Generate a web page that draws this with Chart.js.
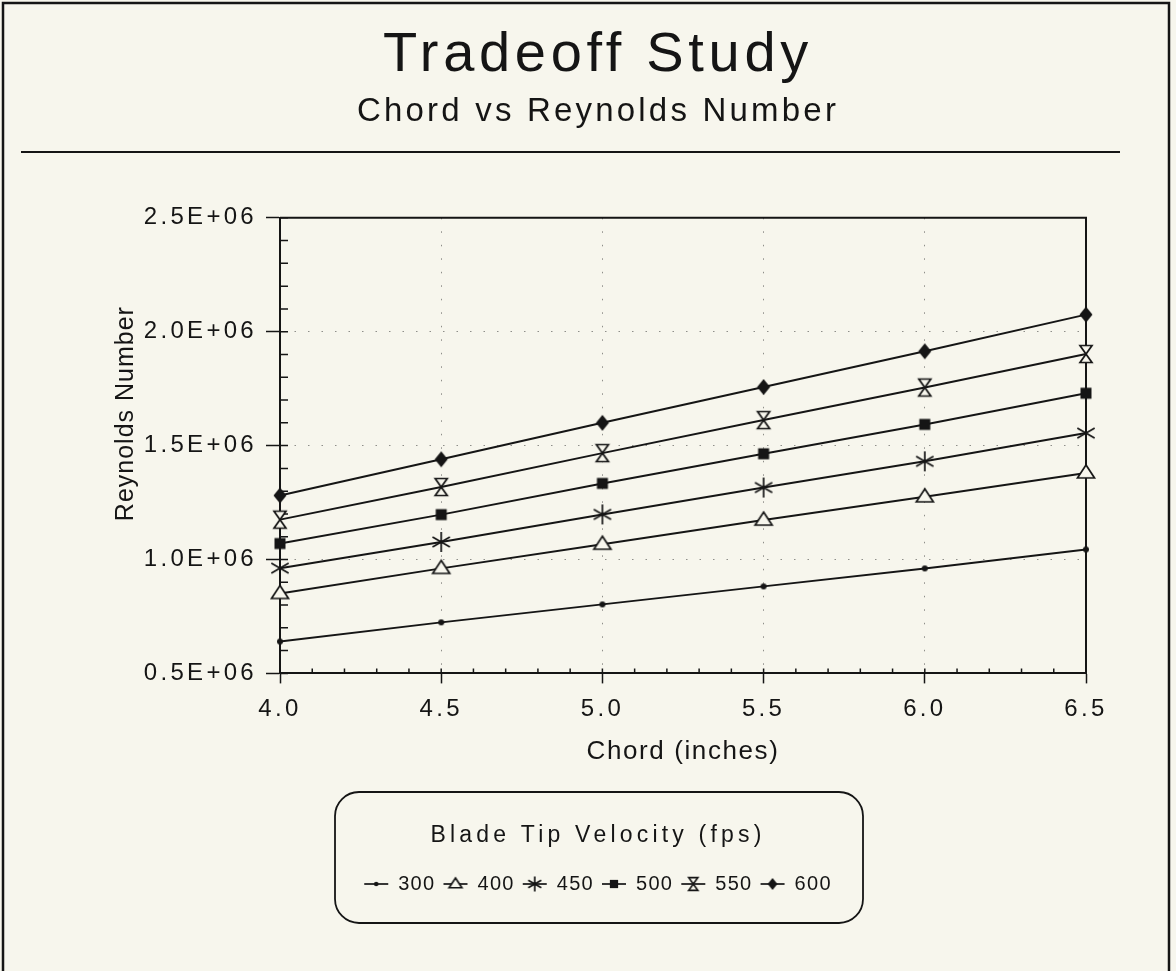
<!DOCTYPE html>
<html>
<head>
<meta charset="utf-8">
<title>Tradeoff Study</title>
<script src="https://cdn.jsdelivr.net/npm/chart.js@4.4.0/dist/chart.umd.min.js"></script>
<style>
  body { margin: 0; background: #f7f6ed; }
  canvas { display: block; }
</style>
</head>
<body>
<canvas id="tradeoffChart" width="1176" height="971"></canvas>
<script>
// chord length (inches) on the x axis
var chord = [4.0, 4.5, 5.0, 5.5, 6.0, 6.5];
// blade tip velocity (fps), one series each
var velocities = ["300", "400", "450", "500", "550", "600"];
// Reynolds number
var re300 = [640000, 724000, 803000, 882000, 961000, 1044000];
var re400 = [851000, 961000, 1067000, 1173000, 1275000, 1380000];
var re450 = [962000, 1077000, 1198000, 1316000, 1431000, 1555000];
var re500 = [1070000, 1197000, 1334000, 1464000, 1593000, 1730000];
var re550 = [1175000, 1318000, 1467000, 1612000, 1755000, 1902000];
var re600 = [1281000, 1440000, 1600000, 1757000, 1914000, 2075000];
var seriesValues = [re300, re400, re450, re500, re550, re600];

var markers = ["dot", "triangle", "star", "square", "hourglass", "diamond"];

var paper = "#f7f6ed";
var ink = "#151515";
var family = "'Liberation Sans', Arial, Helvetica, sans-serif";
Chart.defaults.font.family = family;
Chart.defaults.color = ink;

// the old plotter font runs wide, so add letter spacing by font size
var tracking = {56: 4.7, 33: 3.2, 26: 1.6, 25: 1.0, 23: 4.2, 24: 3.3, 20: 1.3};

function makeIcon(kind, legend) {
	var k = legend ? 0.75 : 1;
	var c = document.createElement("canvas");
	c.width = legend ? 26 : 24;
	c.height = legend ? 20 : 24;
	var g = c.getContext("2d");
	var cx = c.width / 2, cy = c.height / 2;
	g.strokeStyle = ink;
	g.fillStyle = ink;
	g.lineWidth = 1.7;
	if (legend) {
		g.beginPath();
		g.moveTo(1, cy);
		g.lineTo(c.width - 1, cy);
		g.stroke();
	}
	g.beginPath();
	if (kind == "dot") {
		g.arc(cx, cy, 3 * k, 0, Math.PI * 2);
		g.fill();
	} else if (kind == "triangle") {
		g.moveTo(cx, cy - 8 * k);
		g.lineTo(cx + 8.5 * k, cy + 5 * k);
		g.lineTo(cx - 8.5 * k, cy + 5 * k);
		g.closePath();
		g.fillStyle = paper;
		g.fill();
		g.stroke();
	} else if (kind == "star") {
		for (var a = 0; a < 3; a++) {
			var t = a * Math.PI / 3;
			g.moveTo(cx + Math.sin(t) * 10 * k, cy - Math.cos(t) * 10 * k);
			g.lineTo(cx - Math.sin(t) * 10 * k, cy + Math.cos(t) * 10 * k);
		}
		g.stroke();
	} else if (kind == "square") {
		g.rect(cx - 5.5 * k, cy - 5.5 * k, 11 * k, 11 * k);
		g.fill();
	} else if (kind == "hourglass") {
		g.moveTo(cx - 6 * k, cy - 8.5 * k);
		g.lineTo(cx + 6 * k, cy - 8.5 * k);
		g.lineTo(cx - 6 * k, cy + 8.5 * k);
		g.lineTo(cx + 6 * k, cy + 8.5 * k);
		g.closePath();
		g.fillStyle = paper;
		g.fill();
		g.stroke();
	} else if (kind == "diamond") {
		g.moveTo(cx, cy - 8 * k);
		g.lineTo(cx + 6.5 * k, cy);
		g.lineTo(cx, cy + 8 * k);
		g.lineTo(cx - 6.5 * k, cy);
		g.closePath();
		g.fill();
	}
	return c;
}

var pointIcons = markers.map(function(m) { return makeIcon(m, false); });
var legendIcons = markers.map(function(m) { return makeIcon(m, true); });

var letterSpacing = {
	id: "letterSpacing",
	beforeInit: function(chart) {
		var ctx = chart.ctx;
		var fillText = ctx.fillText, measureText = ctx.measureText;
		function track() {
			var m = /(\d+(?:\.\d+)?)px/.exec(ctx.font);
			var s = m ? tracking[Math.round(parseFloat(m[1]))] : 0;
			ctx.letterSpacing = (s || 0) + "px";
		}
		ctx.fillText = function() { track(); return fillText.apply(ctx, arguments); };
		ctx.measureText = function() { track(); return measureText.apply(ctx, arguments); };
	}
};

// paper, frame, rule under the title, legend box, plot box and inside ticks
var paperFrame = {
	id: "paperFrame",
	beforeDraw: function(chart) {
		var ctx = chart.ctx;
		ctx.save();
		ctx.fillStyle = paper;
		ctx.fillRect(0, 0, chart.width, chart.height);
		ctx.strokeStyle = ink;
		ctx.lineWidth = 2.5;
		ctx.beginPath();
		ctx.moveTo(3, chart.height);
		ctx.lineTo(3, 3);
		ctx.lineTo(1169, 3);
		ctx.lineTo(1169, chart.height);
		ctx.stroke();
		ctx.lineWidth = 2;
		ctx.beginPath();
		ctx.moveTo(21, 152);
		ctx.lineTo(1120, 152);
		ctx.stroke();
		ctx.lineWidth = 1.8;
		ctx.beginPath();
		ctx.roundRect(335, 792, 528, 131, 24);
		ctx.stroke();
		ctx.restore();
	},
	beforeDatasetsDraw: function(chart) {
		var ctx = chart.ctx, a = chart.chartArea;
		var xs = chart.scales.x, ys = chart.scales.y;
		ctx.save();
		ctx.strokeStyle = ink;
		ctx.lineWidth = 1.5;
		ctx.beginPath();
		for (var i = 0; i <= 25; i++) {
			var px = xs.getPixelForValue(4 + i / 10);
			ctx.moveTo(px, a.bottom);
			ctx.lineTo(px, a.bottom - 5);
		}
		for (var j = 0; j <= 20; j++) {
			var py = ys.getPixelForValue(500000 + j * 100000);
			ctx.moveTo(a.left, py);
			ctx.lineTo(a.left + 8, py);
		}
		ctx.stroke();
		ctx.lineWidth = 2;
		ctx.beginPath();
		ctx.moveTo(a.left, a.top);
		ctx.lineTo(a.right, a.top);
		ctx.lineTo(a.right, a.bottom);
		ctx.stroke();
		ctx.restore();
	},
	afterDraw: function(chart) {
		// y title sits a little above the middle of the axis in the original
		var ctx = chart.ctx, a = chart.chartArea;
		ctx.save();
		ctx.translate(126, (a.top + a.bottom) / 2 - 32);
		ctx.rotate(-Math.PI / 2);
		ctx.font = "25px " + family;
		ctx.fillStyle = ink;
		ctx.textAlign = "center";
		ctx.textBaseline = "middle";
		ctx.fillText("Reynolds Number", 0, 0);
		ctx.restore();
	}
};

var tradeoffChart = new Chart("tradeoffChart", {
	type: "line",
	data: {
		datasets: velocities.map(function(v, i) {
			return {
				label: v,
				data: chord.map(function(c, j) { return {x: c, y: seriesValues[i][j]}; }),
				borderColor: ink,
				borderWidth: 2,
				tension: 0,
				fill: false,
				clip: false,
				pointStyle: pointIcons[i],
				pointRadius: 8,
				pointBorderWidth: 0
			};
		})
	},
	options: {
		responsive: false,
		animation: false,
		events: [],
		layout: { padding: { left: 110, right: 90, top: 0, bottom: 67 } },
		plugins: {
			title: {
				display: true,
				text: "Tradeoff Study",
				color: ink,
				font: { size: 56, weight: "normal" },
				padding: { top: 22, bottom: 0 }
			},
			subtitle: {
				display: true,
				text: "Chord vs Reynolds Number",
				color: ink,
				font: { size: 33 },
				padding: { top: 3, bottom: 86 }
			},
			legend: {
				position: "bottom",
				title: {
					display: true,
					text: "Blade Tip Velocity (fps)",
					color: ink,
					font: { size: 23 },
					padding: { top: 51, bottom: 14 }
				},
				labels: {
					usePointStyle: true,
					pointStyleWidth: 24,
					boxHeight: 20,
					padding: 8,
					color: ink,
					font: { size: 20 },
					generateLabels: function(chart) {
						return chart.data.datasets.map(function(ds, i) {
							return { text: ds.label, pointStyle: legendIcons[i], fontColor: ink, datasetIndex: i, hidden: false, lineWidth: 0 };
						});
					}
				}
			},
			tooltip: { enabled: false }
		},
		scales: {
			x: {
				type: "linear",
				min: 4,
				max: 6.5,
				afterFit: function(s) { s.height = 100; },
				ticks: {
					stepSize: 0.5,
					padding: 12,
					autoSkip: false,
					maxRotation: 0,
					color: ink,
					font: { size: 24 },
					callback: function(v) { return v.toFixed(1); }
				},
				grid: { color: "rgba(40,40,40,0.5)", lineWidth: 1, tickLength: 10, tickColor: ink, tickWidth: 1.5 },
				border: { display: true, color: ink, width: 2, dash: [1.5, 12] },
				title: { display: true, text: "Chord (inches)", color: ink, font: { size: 26 }, padding: { top: 0, bottom: 6 } }
			},
			y: {
				type: "linear",
				min: 500000,
				max: 2500000,
				afterFit: function(s) { s.width = 170; },
				ticks: {
					stepSize: 500000,
					padding: 9,
					color: ink,
					font: { size: 24 },
					callback: function(v) { return (v / 1000000).toFixed(1) + "E+06"; }
				},
				grid: { color: "rgba(40,40,40,0.5)", lineWidth: 1, tickLength: 14, tickColor: ink, tickWidth: 1.5 },
				border: { display: true, color: ink, width: 2, dash: [1.5, 12] }
			}
		}
	},
	plugins: [letterSpacing, paperFrame]
});
</script>
</body>
</html>
